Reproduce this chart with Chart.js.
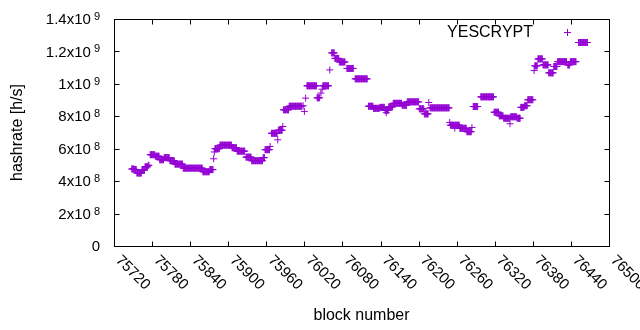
<!DOCTYPE html>
<html>
<head>
<meta charset="utf-8">
<script src="https://cdn.jsdelivr.net/npm/chart.js@4.4.1/dist/chart.umd.min.js"></script>
<style>
  html, body { margin: 0; padding: 0; background: #fff; }
  #wrap { width: 640px; height: 330px; }
</style>
</head>
<body>
<div id="wrap"><canvas id="myChart"></canvas></div>
<script>
// hashrate per block, stored as runs of consecutive blocks with the same value
// (first block, last block, hashrate in units of 1e8 h/s)
var runFirst = [
  75748, 75752, 75756, 75764, 75769, 75774, 75777, 75785, 75792, 75799,
  75808, 75816, 75829, 75860, 75871, 75877, 75878, 75879, 75887, 75906,
  75914, 75928, 75937, 75955, 75958, 75966, 75968, 75978, 75979, 75986,
  75987, 75996, 76018, 76020, 76022, 76024, 76040, 76046, 76048, 76049,
  76060, 76063, 76068, 76075, 76087, 76100, 76121, 76129, 76139, 76147,
  76149, 76153, 76160, 76174, 76182, 76201, 76209, 76216, 76218, 76249,
  76250, 76257, 76265, 76276, 76284, 76286, 76298, 76319, 76327, 76334,
  76344, 76345, 76355, 76361, 76367, 76372, 76382, 76383, 76388, 76396,
  76405, 76413, 76419, 76435, 76439, 76452
];
var runLast = [
  75751, 75755, 75763, 75768, 75773, 75775, 75784, 75791, 75798, 75807,
  75815, 75828, 75859, 75870, 75876, 75877, 75878, 75886, 75905, 75913,
  75926, 75936, 75954, 75957, 75965, 75966, 75977, 75978, 75985, 75986,
  75995, 76016, 76018, 76020, 76022, 76039, 76044, 76046, 76048, 76058,
  76060, 76067, 76074, 76084, 76097, 76119, 76128, 76138, 76146, 76152,
  76149, 76159, 76173, 76181, 76200, 76208, 76215, 76216, 76248, 76249,
  76264, 76257, 76275, 76283, 76284, 76293, 76318, 76326, 76333, 76343,
  76344, 76354, 76360, 76366, 76371, 76380, 76382, 76387, 76395, 76404,
  76412, 76418, 76433, 76438, 76448, 76466
];
var runRate = [
  4.75, 4.72, 4.50, 4.68, 4.89, 4.98, 5.63, 5.54, 5.32, 5.45,
  5.26, 5.05, 4.80, 4.58, 4.71, 5.38, 5.80, 6.00, 6.22, 6.06,
  5.85, 5.48, 5.26, 5.45, 5.94, 6.14, 6.95, 6.55, 7.14, 7.37,
  8.40, 8.62, 8.65, 8.30, 9.12, 9.88, 9.14, 9.43, 9.67, 9.88,
  10.86, 11.91, 11.57, 11.35, 10.95, 10.31, 8.62, 8.49, 8.55, 8.37,
  8.22, 8.58, 8.80, 8.68, 8.89, 8.46, 8.15, 8.85, 8.52, 7.62,
  7.45, 7.27, 7.26, 7.05, 7.31, 8.60, 9.20, 8.25, 8.03, 7.88,
  7.54, 7.97, 7.88, 8.55, 8.65, 9.02, 10.82, 11.11, 11.54, 11.17,
  10.68, 11.07, 11.37, 11.17, 11.37, 12.55
];

var xTicks = [75720, 75780, 75840, 75900, 75960, 76020, 76080, 76140, 76200, 76260, 76320, 76380, 76440, 76500];
var yTicks = [0, 2e8, 4e8, 6e8, 8e8, 1e9, 1.2e9, 1.4e9];
var yTickMant = ['0', '2x10', '4x10', '6x10', '8x10', '1x10', '1.2x10', '1.4x10'];
var yTickExp = ['', '8', '8', '8', '8', '9', '9', '9'];

var seriesName = 'YESCRYPT';
var purple = '#9400d3';
var fontName = '"Liberation Sans", Arial, sans-serif';

var points = [];
for (var r = 0; r < runFirst.length; r++) {
    for (var b = runFirst[r]; b <= runLast[r]; b++) {
        points.push({x: b, y: runRate[r] * 1e8});
    }
}

// gnuplot look: box, inward ticks, rotated x labels, superscript y labels, key
var gnuplotFrame = {
    id: 'gnuplotFrame',
    afterDraw: function(chart) {
        var ctx = chart.ctx, a = chart.chartArea;
        var xs = chart.scales.x, ys = chart.scales.y;
        var L = Math.round(a.left) + 0.5, R = Math.round(a.right) + 0.5;
        var T = Math.round(a.top) + 0.5, B = Math.round(a.bottom) + 0.5;
        ctx.save();
        ctx.strokeStyle = '#000';
        ctx.lineWidth = 1;
        ctx.beginPath();
        ctx.rect(L, T, R - L, B - T);
        yTicks.forEach(function(v) {
            var y = Math.round(ys.getPixelForValue(v)) + 0.5;
            ctx.moveTo(L, y); ctx.lineTo(L + 5, y);
            ctx.moveTo(R, y); ctx.lineTo(R - 5, y);
        });
        xTicks.forEach(function(v) {
            var x = Math.round(xs.getPixelForValue(v)) + 0.5;
            ctx.moveTo(x, B); ctx.lineTo(x, B - 5);
            ctx.moveTo(x, T); ctx.lineTo(x, T + 5);
        });
        ctx.stroke();

        ctx.fillStyle = '#000';
        // y labels
        yTicks.forEach(function(v, i) {
            var y = ys.getPixelForValue(v);
            ctx.font = '15px ' + fontName;
            var wm = ctx.measureText(yTickMant[i]).width;
            ctx.font = '11px ' + fontName;
            var we = yTickExp[i] ? ctx.measureText(yTickExp[i]).width + 3 : 0;
            var x0 = 100 - wm - we;
            ctx.textBaseline = 'middle';
            ctx.textAlign = 'left';
            ctx.font = '15px ' + fontName;
            ctx.fillText(yTickMant[i], x0, y + 1);
            if (yTickExp[i]) {
                ctx.font = '11px ' + fontName;
                ctx.fillText(yTickExp[i], x0 + wm + 3, y - 2);
            }
        });
        // x labels, rotated 45 degrees clockwise
        ctx.font = '15px ' + fontName;
        xTicks.forEach(function(v) {
            var x = xs.getPixelForValue(v);
            ctx.save();
            ctx.translate(x + 4, a.bottom + 12);
            ctx.rotate(Math.PI / 4);
            ctx.textAlign = 'left';
            ctx.textBaseline = 'middle';
            ctx.fillText(String(v), 0, 0);
            ctx.restore();
        });
        // key
        ctx.font = '16px ' + fontName;
        ctx.textAlign = 'right';
        ctx.textBaseline = 'alphabetic';
        ctx.fillText(seriesName, a.right - 76, a.top + 18);
        ctx.strokeStyle = purple;
        var kx = Math.round(a.right - 42) + 0.5, ky = Math.round(a.top + 13) + 0.5;
        ctx.beginPath();
        ctx.moveTo(kx - 3.5, ky); ctx.lineTo(kx + 3.5, ky);
        ctx.moveTo(kx, ky - 3.5); ctx.lineTo(kx, ky + 3.5);
        ctx.stroke();
        ctx.restore();
    }
};

var ctx = document.getElementById('myChart').getContext('2d');
var chart = new Chart(ctx, {
    type: 'scatter',
    data: {
        datasets: [{
            label: seriesName,
            data: points,
            pointStyle: 'cross',
            pointRadius: 3.5,
            pointBorderWidth: 1,
            borderColor: purple,
            backgroundColor: purple,
            showLine: false
        }]
    },
    options: {
        responsive: true,
        maintainAspectRatio: false,
        animation: false,
        layout: { padding: { top: 19, right: 31, left: 0, bottom: 0 } },
        plugins: {
            legend: { display: false },
            tooltip: { enabled: false }
        },
        scales: {
            x: {
                type: 'linear',
                min: 75720,
                max: 76500,
                ticks: { display: false, stepSize: 60 },
                grid: { display: false },
                border: { display: false },
                title: {
                    display: true,
                    text: 'block number',
                    color: '#000',
                    font: { family: fontName, size: 16 },
                    padding: { top: 0, bottom: 5 }
                },
                afterFit: function(scale) { scale.height = 84; }
            },
            y: {
                min: 0,
                max: 1.4e9,
                ticks: { display: false, stepSize: 2e8 },
                grid: { display: false },
                border: { display: false },
                title: {
                    display: true,
                    text: 'hashrate [h/s]',
                    color: '#000',
                    font: { family: fontName, size: 16 },
                    padding: { top: 8, bottom: 0 }
                },
                afterFit: function(scale) { scale.width = 114; }
            }
        }
    },
    plugins: [gnuplotFrame]
});
</script>
</body>
</html>
